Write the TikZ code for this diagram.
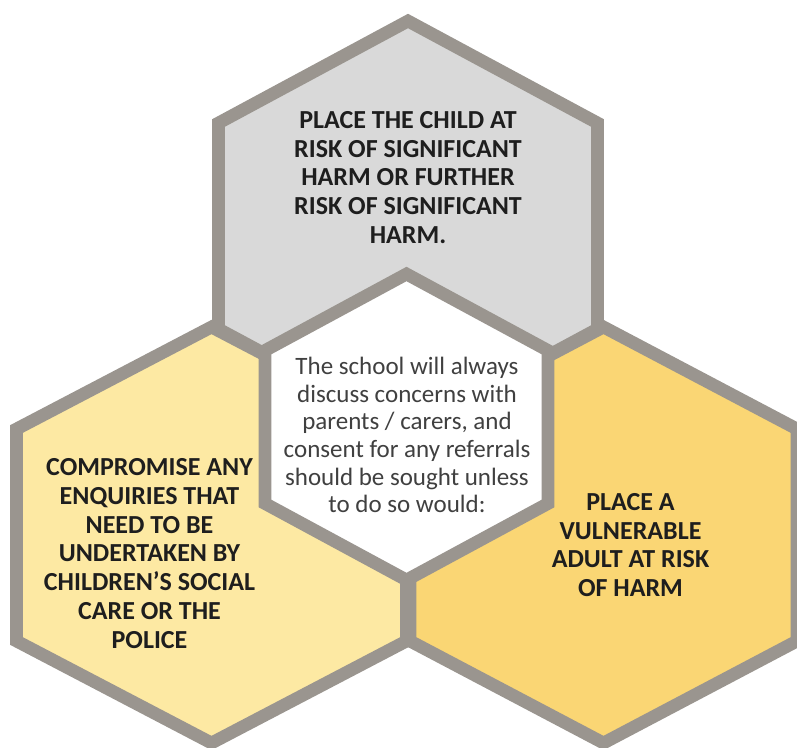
\documentclass[tikz,border=0pt]{standalone}
\usepackage{fontspec}
\setmainfont{Carlito}
\definecolor{hexline}{HTML}{9A958F}
\definecolor{topfill}{HTML}{D9D9D9}
\definecolor{leftfill}{HTML}{FDE9A3}
\definecolor{rightfill}{HTML}{FAD674}
\definecolor{boldtext}{HTML}{1E1E1E}
\definecolor{bodytext}{HTML}{404040}
\begin{document}
\begin{tikzpicture}[x=1pt,y=-1pt,
  hexcell/.style={draw=hexline,line width=12.7pt,line join=miter},
  outertext/.style={font=\fontsize{26}{28.7}\selectfont\bfseries,text=boldtext,align=center,inner sep=0pt},
  innertext/.style={font=\fontsize{25}{27.7}\selectfont,text=bodytext,align=center,inner sep=0pt}]
\useasboundingbox (0,0) rectangle (797,747);
% left cell
\draw[hexcell,fill=leftfill] (211.5,327) -- (406.5,429) -- (406.5,641) -- (211.5,743) -- (16.5,641) -- (16.5,429) -- cycle;
% right cell
\draw[hexcell,fill=rightfill] (603.5,327) -- (797,429) -- (797,641) -- (603.5,743) -- (410,641) -- (410,429) -- cycle;
% top cell
\draw[hexcell,fill=topfill] (408,21) -- (597.5,123) -- (597.5,329) -- (408,431) -- (218.5,329) -- (218.5,123) -- cycle;
% centre cell
\draw[hexcell,fill=white] (406.5,274) -- (548,350.5) -- (548,503.5) -- (406.5,580) -- (265,503.5) -- (265,350.5) -- cycle;

\node[outertext] (toptext) at (408,177.5) {PLACE THE CHILD AT\\RISK OF SIGNIFICANT\\HARM OR FURTHER\\RISK OF SIGNIFICANT\\HARM.};
\node[outertext] (lefttext) at (149.5,553.5) {COMPROMISE ANY\\ENQUIRIES THAT\\NEED TO BE\\UNDERTAKEN BY\\CHILDREN’S SOCIAL\\CARE OR THE\\POLICE};
\node[outertext] (righttext) at (630.5,545) {PLACE A\\VULNERABLE\\ADULT AT RISK\\OF HARM};
\node[innertext] (centretext) at (407,435) {The school will always\\discuss concerns with\\parents / carers, and\\consent for any referrals\\should be sought unless\\to do so would:};
\end{tikzpicture}
\end{document}
